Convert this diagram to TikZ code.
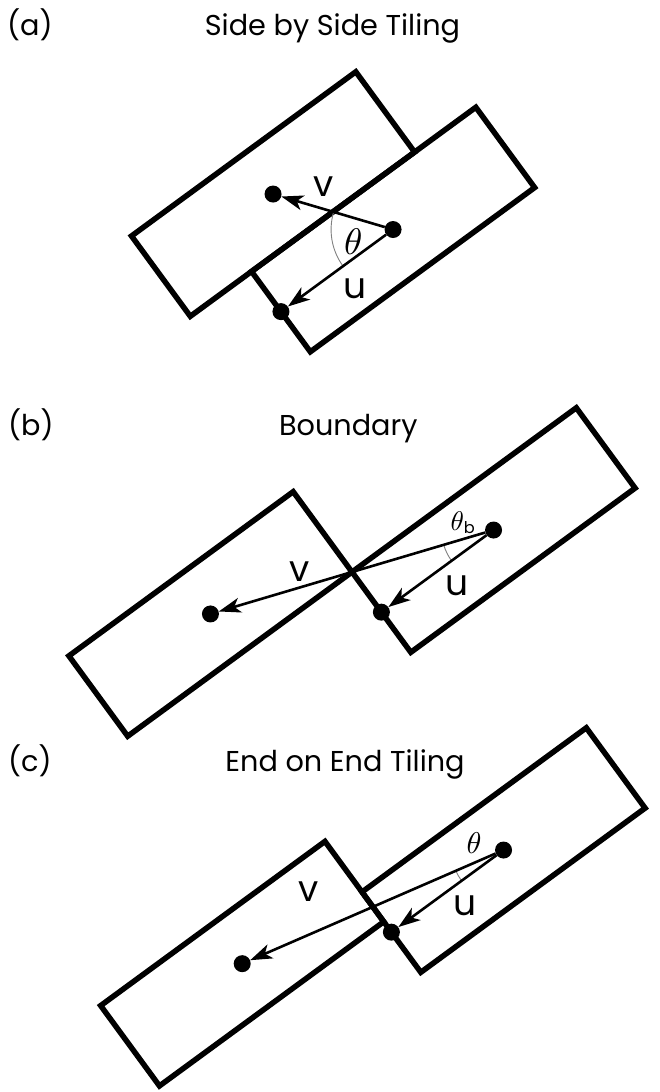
\documentclass[tikz,border=0pt]{standalone}
\usepackage{fontspec}
\setmainfont{Poppins}
\usetikzlibrary{arrows.meta,calc}
\newcommand{\tileat}[1]{\draw[tile] (#1) -- ++(224.3,-164.2) -- ++(58.8,80.3) -- ++(-224.3,164.2) -- cycle;}
\begin{document}
\begin{tikzpicture}[x=1pt,y=-1pt,
  tile/.style={draw=black, line width=5.5pt, line join=miter},
  vec/.style={draw=black, line width=2.6pt, -{Stealth[length=22pt,width=15pt,inset=6pt]}},
  dot/.style={circle, fill=black, inner sep=0pt, minimum size=17pt},
  lbl/.style={font=\fontsize{36}{40}\selectfont, inner sep=0pt, anchor=base},
  ttl/.style={font=\fontsize{28.7}{32}\selectfont, inner sep=0pt, anchor=base},
  tag/.style={font=\fontsize{28.7}{32}\selectfont, inner sep=0pt, anchor=base west},
  ang/.style={draw=gray, line width=0.9pt},
  th/.style={inner sep=0pt, anchor=base west, font=\fontsize{10}{12}\selectfont}
]
\useasboundingbox (0,0) rectangle (660,1092);

% ---------- (a) Side by Side Tiling ----------
\node[tag] (ta) at (7,35) {(a)};
\node[ttl] (Ta) at (332.5,35) {Side by Side Tiling};
\coordinate (A1) at (131.5,236);
\coordinate (A1b) at ($(A1)+(58.8,80.3)$);
\coordinate (A2) at ($(A1b)+0.273*(224.3,-164.2)$);
\tileat{A1}
\tileat{A2}
\node[dot] (av) at ($(A1)+(141.55,-41.95)$) {};
\node[dot] (ao) at ($(A2)+(141.55,-41.95)$) {};
\node[dot] (au) at ($(A2)+(29.4,40.15)$) {};
\draw[ang] ($(ao)+(143.8:62)$) arc[start angle=143.8, end angle=196.46, radius=62];
\draw[vec] (ao) -- (av);
\draw[vec] (ao) -- (au);
\node[lbl] (lav) at (324,196.7) {v};
\node[lbl] (lau) at (355,298.3) {u};
\node[th, scale=3.7] (lath) at (343.5,254) {$\theta$};

% ---------- (b) Boundary ----------
\node[tag] (tb) at (8,435) {(b)};
\node[ttl] (Tb) at (348.3,435) {Boundary};
\coordinate (B2) at (352,572);
\coordinate (B1) at ($(B2)-(283.1,-83.9)$);
\tileat{B1}
\tileat{B2}
\node[dot] (bv) at ($(B1)+(141.55,-41.95)$) {};
\node[dot] (bo) at ($(B2)+(141.55,-41.95)$) {};
\node[dot] (bu) at ($(B2)+(29.4,40.15)$) {};
\draw[ang] ($(bo)+(143.8:52)$) arc[start angle=143.8, end angle=163.49, radius=52];
\draw[vec] (bo) -- (bv);
\draw[vec] (bo) -- (bu);
\node[lbl] (lbv) at (299.2,581.7) {v};
\node[lbl] (lbu) at (456.7,595) {u};
\node[th, scale=2.7] (lbth) at (450,530) {$\theta$\raisebox{-1.3pt}{\fontsize{6}{7}\selectfont b}};

% ---------- (c) End on End Tiling ----------
\node[tag] (tc) at (8,771.7) {(c)};
\node[ttl] (Tc) at (345,771.7) {End on End Tiling};
\coordinate (C2) at (362,892);
\coordinate (C1r) at ($(C2)+0.37*(58.8,80.3)$);
\coordinate (C1) at ($(C1r)-(283.1,-83.9)$);
\tileat{C1}
\tileat{C2}
\node[dot] (cv) at ($(C1)+(141.55,-41.95)$) {};
\node[dot] (co) at ($(C2)+(141.55,-41.95)$) {};
\node[dot] (cu) at ($(C2)+(29.4,40.15)$) {};
\draw[ang] ($(co)+(143.8:52)$) arc[start angle=143.8, end angle=156.48, radius=52];
\draw[vec] (co) -- (cv);
\draw[vec] (co) -- (cu);
\node[lbl] (lcv) at (308.8,901.7) {v};
\node[lbl] (lcu) at (465,915) {u};
\node[th, scale=3.0] (lcth) at (466,853.3) {$\theta$};
\end{tikzpicture}
\end{document}
